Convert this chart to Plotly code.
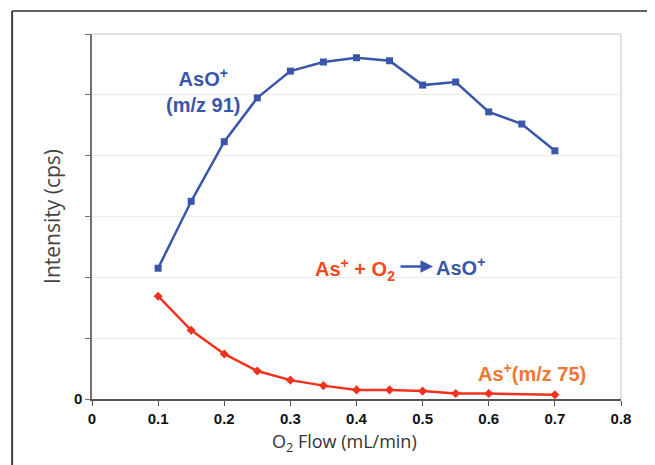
import plotly.graph_objects as go

# O2 flow (mL/min)
flow_aso = [0.1, 0.15, 0.2, 0.25, 0.3, 0.35, 0.4, 0.45, 0.5, 0.55, 0.6, 0.65, 0.7]
aso_intensity = [2.15, 3.25, 4.23, 4.95, 5.39, 5.54, 5.61, 5.56, 5.16, 5.21, 4.72, 4.52, 4.08]

flow_as = [0.1, 0.15, 0.2, 0.25, 0.3, 0.35, 0.4, 0.45, 0.5, 0.55, 0.6, 0.7]
as_intensity = [1.69, 1.13, 0.74, 0.46, 0.31, 0.22, 0.15, 0.15, 0.13, 0.09, 0.09, 0.07]

x_ticks = [0, 0.1, 0.2, 0.3, 0.4, 0.5, 0.6, 0.7, 0.8]
x_tick_labels = ["0", "0.1", "0.2", "0.3", "0.4", "0.5", "0.6", "0.7", "0.8"]
y_ticks = [0, 1, 2, 3, 4, 5, 6]
y_tick_labels = ["0", "", "", "", "", "", ""]

BLUE = "#3a56aa"
RED = "#f2321e"
RED_TXT = "#f24a1e"
ORANGE_TXT = "#f2762e"

fig = go.Figure()
fig.add_trace(go.Scatter(x=flow_aso, y=aso_intensity, mode="lines+markers",
                         line=dict(color=BLUE, width=2.5),
                         marker=dict(symbol="square", size=7, color=BLUE),
                         showlegend=False))
fig.add_trace(go.Scatter(x=flow_as, y=as_intensity, mode="lines+markers",
                         line=dict(color=RED, width=2.5),
                         marker=dict(symbol="diamond", size=7, color=RED),
                         showlegend=False))

bold = dict(family="Liberation Sans, Arial", size=20)

fig.add_annotation(x=0.168, y=5.07, xref="x", yref="y",
                   text="<b>AsO<sup>+</sup><br>(m/z 91)</b>", showarrow=False,
                   font=dict(color=BLUE, **bold), align="center")
fig.add_annotation(x=0.461, y=2.13, xref="x", yref="y", xanchor="right",
                   text="<b>As<sup>+</sup> + O<sub>2</sub></b>", showarrow=False,
                   font=dict(color=RED_TXT, **bold))
fig.add_annotation(x=0.5157, y=2.18, xref="x", yref="y", ax=-34, ay=0,
                   text="", showarrow=True, arrowhead=2, arrowsize=1,
                   arrowwidth=2.5, arrowcolor=BLUE)
fig.add_annotation(x=0.517, y=2.18, xref="x", yref="y", xanchor="left",
                   text="<b>AsO<sup>+</sup></b>", showarrow=False,
                   font=dict(color=BLUE, **bold))
fig.add_annotation(x=0.580, y=0.44, xref="x", yref="y", xanchor="left",
                   text="<b>As<sup>+</sup>(m/z 75)</b>", showarrow=False,
                   font=dict(color=ORANGE_TXT, **bold))

# x axis title (placed slightly left of centre, as in the original)
fig.add_annotation(x=0.478, y=-0.078, xref="paper", yref="paper",
                   yanchor="top", showarrow=False,
                   text="O<sub>2</sub> Flow (mL/min)",
                   font=dict(family="Open Sans", size=18, color="#333"))

# outer frame (top and left lines)
fig.add_shape(type="line", xref="paper", yref="paper",
              x0=-0.151, x1=1.2, y0=1.063, y1=1.063,
              line=dict(color="#606060", width=2))
fig.add_shape(type="line", xref="paper", yref="paper",
              x0=-0.151, x1=-0.151, y0=1.063, y1=-0.3,
              line=dict(color="#404040", width=2))
# plot area top/right border
fig.add_shape(type="line", xref="paper", yref="paper",
              x0=0, x1=1, y0=1, y1=1, line=dict(color="#dcd6d6", width=1.5))
fig.add_shape(type="line", xref="paper", yref="paper",
              x0=1, x1=1, y0=0, y1=1, line=dict(color="#dcd6d6", width=1.5))

fig.update_layout(
    width=647, height=457,
    margin=dict(l=84, r=34, t=26, b=66),
    paper_bgcolor="white", plot_bgcolor="white",
    xaxis=dict(range=[0, 0.8], tickvals=x_ticks,
               ticktext=["<b>%s</b>" % t for t in x_tick_labels],
               showgrid=False, zeroline=False,
               showline=True, linecolor="#555555", linewidth=1.5,
               ticks="outside", ticklen=5, tickcolor="#555555",
               tickfont=dict(family="Liberation Sans, Arial", size=15, color="#111")),
    yaxis=dict(range=[0, 6], tickvals=y_ticks,
               ticktext=["<b>%s</b>" % t if t else "" for t in y_tick_labels],
               showgrid=True, gridcolor="#ececec", gridwidth=1, zeroline=False,
               showline=True, linecolor="#7d6e6e", linewidth=1.5,
               ticks="outside", ticklen=5, tickcolor="#7d6e6e",
               tickfont=dict(family="Liberation Sans, Arial", size=15, color="#111"),
               title=dict(text="Intensity (cps)", standoff=8,
                          font=dict(family="Open Sans", size=21, color="#444"))),
)

fig.write_html("out.html")
